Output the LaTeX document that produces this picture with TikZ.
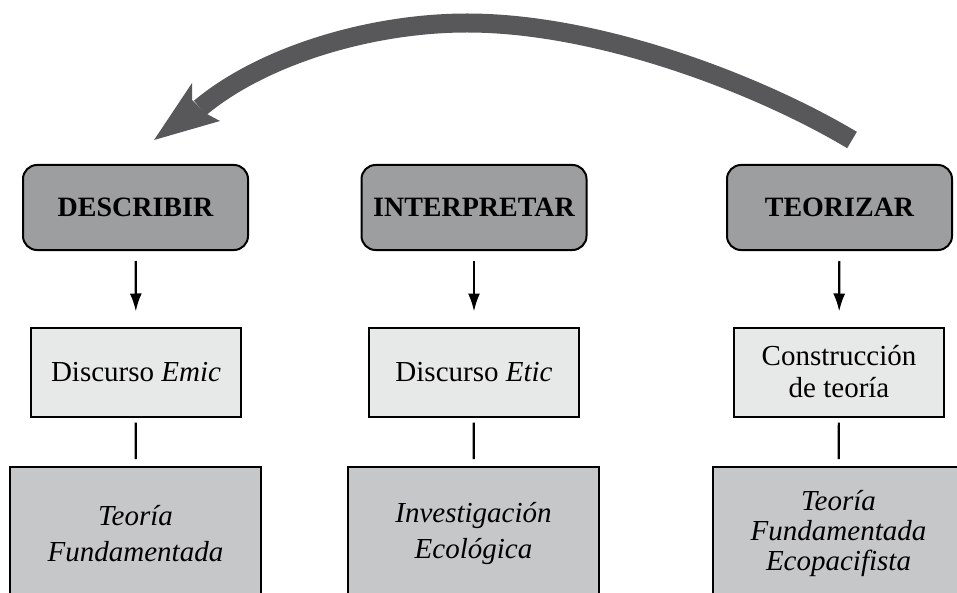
\documentclass[tikz,border=0pt]{standalone}
\usepackage{fontspec}
\setmainfont{Liberation Serif}
\usepackage{tikz}
\usetikzlibrary{arrows.meta}

\definecolor{fasegray}{RGB}{157,158,160}
\definecolor{discgray}{RGB}{231,232,232}
\definecolor{enfgray}{RGB}{198,199,200}
\definecolor{arcgray}{RGB}{88,88,90}

\begin{document}
\begin{tikzpicture}[x=0.5pt,y=-0.5pt,
  fase/.style={draw,line width=1pt,rounded corners=7pt,fill=fasegray,
    minimum width=112.5pt,minimum height=42.5pt,
    font=\fontsize{14}{16}\selectfont\bfseries},
  discurso/.style={draw,line width=1pt,fill=discgray,align=center,
    minimum width=105pt,minimum height=44.5pt,
    font=\fontsize{14.5}{16}\selectfont},
  enfoque/.style={draw,line width=1pt,fill=enfgray,align=center,
    minimum width=125.5pt,minimum height=66.5pt,
    font=\fontsize{14.5}{18}\selectfont\itshape},
  baja/.style={-{Latex[length=9pt,width=6pt]},line width=1.1pt,
    shorten <=5pt,shorten >=7.5pt},
  liga/.style={line width=1.1pt,shorten <=2.5pt,shorten >=3.5pt}]
  \useasboundingbox (0,0) rectangle (957,593);

  % big return arrow
  \coordinate (arcA) at (852,140);
  \coordinate (arcB) at (200,108);
  \draw[line width=9.5pt,arcgray] (arcA) .. controls (760,85) and (600,23) .. (467,23)
    .. controls (370,23) and (262,56) .. (arcB);
  \fill[arcgray] (154,140) -- (192,83) -- (192,100) -- (205,113) -- (220,121) -- cycle;

  \node[fase](F1) at (135.5,207.5) {DESCRIBIR};
  \node[discurso](D1) at (136,372) {Discurso \textit{Emic}};
  \node[enfoque](E1) at (135.5,533.5) {Teoría\\Fundamentada};
  \draw[baja] (F1) -- (D1);
  \draw[liga] (D1) -- (E1);

  \node[fase](F2) at (474,207.5) {INTERPRETAR};
  \node[discurso](D2) at (474,372) {Discurso \textit{Etic}};
  \node[enfoque](E2) at (473.5,533.5) {Investigación\\Ecológica};
  \draw[baja] (F2) -- (D2);
  \draw[liga] (D2) -- (E2);

  \node[fase](F3) at (839.5,207.5) {TEORIZAR};
  \node[discurso](D3) at (839,372) {Construcción\\de teoría};
  \node[enfoque,font=\fontsize{14.5}{15}\selectfont\itshape](E3) at (838.5,533.5)
    {Teoría\\Fundamentada\\Ecopacifista};
  \draw[baja] (F3) -- (D3);
  \draw[liga] (D3) -- (E3);
\end{tikzpicture}
\end{document}
